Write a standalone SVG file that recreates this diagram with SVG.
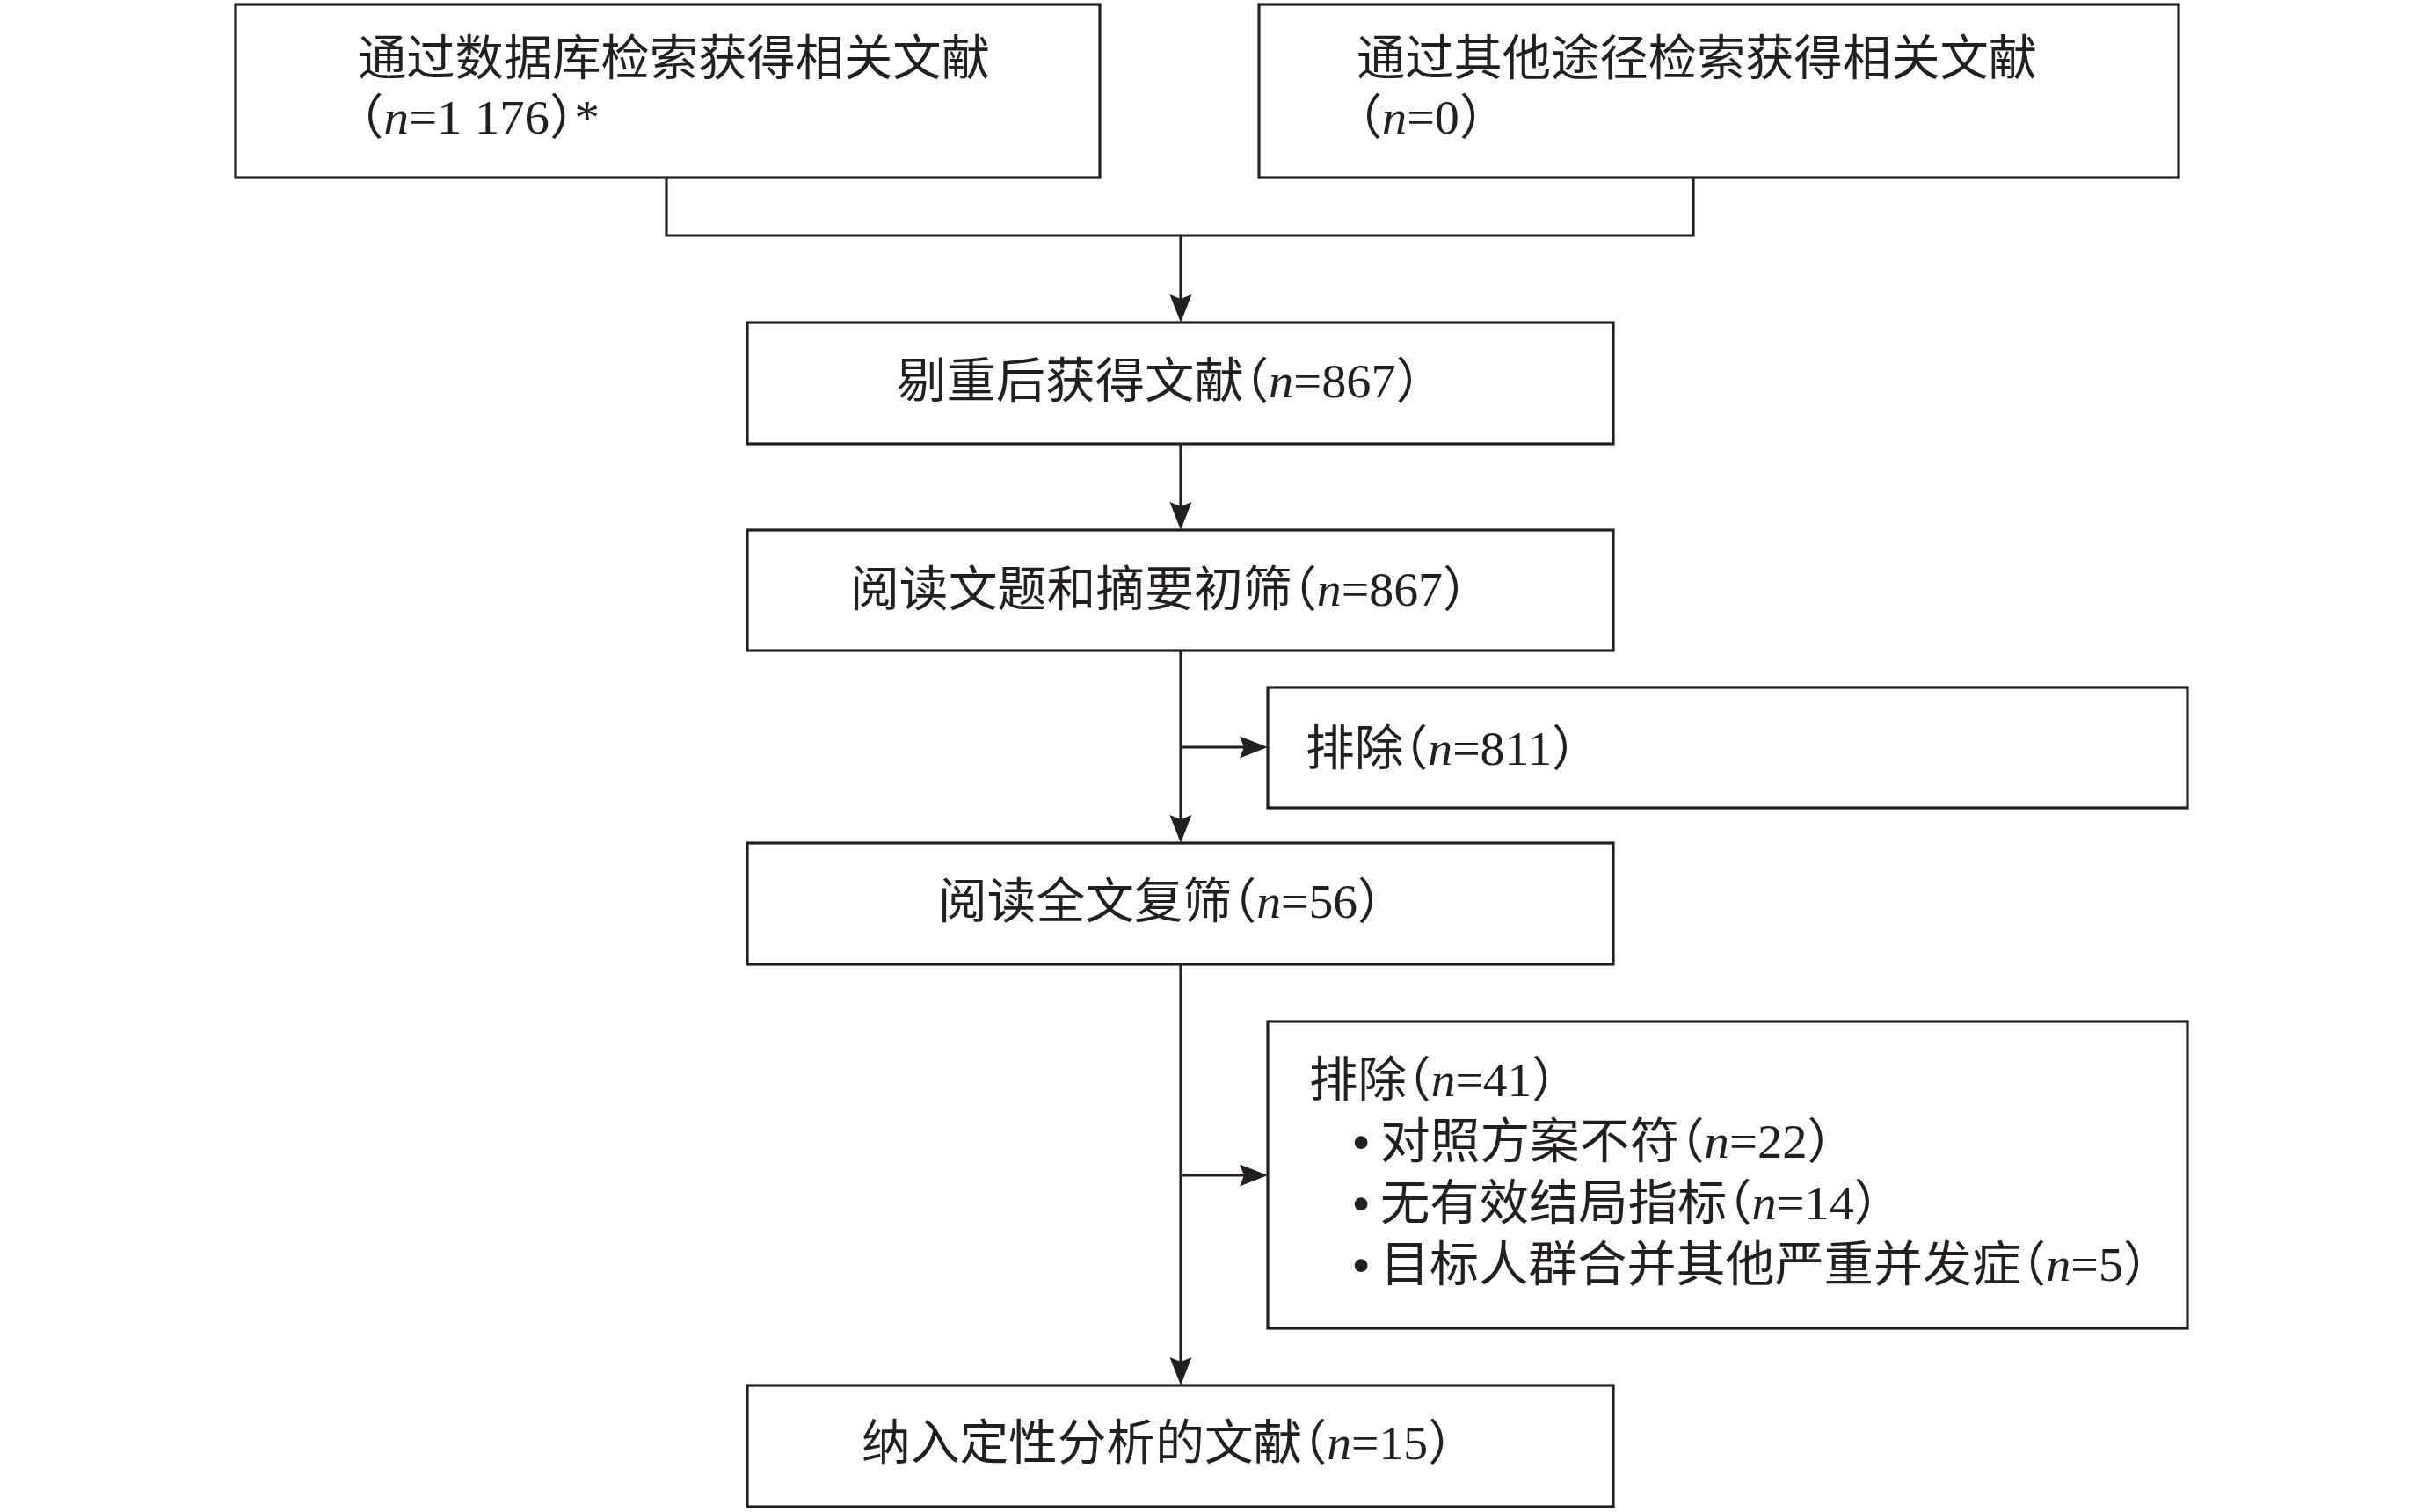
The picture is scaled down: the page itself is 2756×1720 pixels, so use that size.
<svg xmlns="http://www.w3.org/2000/svg" width="2756" height="1720" viewBox="0 0 2756 1720">
<style>
.box{fill:#ffffff;stroke:#231f20;stroke-width:3.2}
.ln{fill:none;stroke:#231f20;stroke-width:3.2}
.t{font-family:"Liberation Serif","Noto Sans CJK SC",serif;font-size:55px;fill:#231f20;font-feature-settings:"halt" 1}
.i{font-style:italic}
.b{font-family:"Liberation Serif",serif;font-size:62px;fill:#231f20;text-anchor:middle}
</style>
<defs>
<marker id="ah" viewBox="-25 -15 40 30" markerWidth="40" markerHeight="30" refX="0" refY="0" orient="auto" markerUnits="userSpaceOnUse">
<path d="M10,0 L-22,-12.5 L-17,0 L-22,12.5 Z" fill="#231f20"/>
</marker>
</defs>
<rect width="2756" height="1720" fill="#ffffff"/>
<g id="connectors">
<path class="ln" d="M758,202 V268 H1926 V202"/>
<path class="ln" d="M1343,268 V357" marker-end="url(#ah)"/>
<path class="ln" d="M1343,505 V593" marker-end="url(#ah)"/>
<path class="ln" d="M1343,740 V949" marker-end="url(#ah)"/>
<path class="ln" d="M1343,850 H1432" marker-end="url(#ah)"/>
<path class="ln" d="M1343,1097 V1566" marker-end="url(#ah)"/>
<path class="ln" d="M1343,1337 H1432" marker-end="url(#ah)"/>
</g>
<g id="n1">
<rect class="box" x="268" y="5" width="983" height="197"/>
<text class="t" x="407" y="85" textLength="719" lengthAdjust="spacingAndGlyphs">通过数据库检索获得相关文献</text>
<text class="t" x="408" y="152" textLength="274" lengthAdjust="spacingAndGlyphs">（<tspan class="i">n</tspan>=1 176）*</text>
</g>
<g id="n2">
<rect class="box" x="1432" y="5" width="1046" height="197"/>
<text class="t" x="1543" y="85" textLength="774" lengthAdjust="spacingAndGlyphs">通过其他途径检索获得相关文献</text>
<text class="t" x="1544" y="152" textLength="144" lengthAdjust="spacingAndGlyphs">（<tspan class="i">n</tspan>=0）</text>
</g>
<g id="n3">
<rect class="box" x="850" y="367" width="985" height="138"/>
<text class="t" x="1020" y="452" textLength="596" lengthAdjust="spacingAndGlyphs">剔重后获得文献（<tspan class="i">n</tspan>=867）</text>
</g>
<g id="n4">
<rect class="box" x="850" y="603" width="985" height="137"/>
<text class="t" x="967" y="689" textLength="702" lengthAdjust="spacingAndGlyphs">阅读文题和摘要初筛（<tspan class="i">n</tspan>=867）</text>
</g>
<g id="n5">
<rect class="box" x="1442" y="782" width="1046" height="137"/>
<text class="t" x="1485" y="870" textLength="308" lengthAdjust="spacingAndGlyphs">排除（<tspan class="i">n</tspan>=811）</text>
</g>
<g id="n6">
<rect class="box" x="850" y="959" width="985" height="138"/>
<text class="t" x="1067" y="1044" textLength="505" lengthAdjust="spacingAndGlyphs">阅读全文复筛（<tspan class="i">n</tspan>=56）</text>
</g>
<g id="n7">
<rect class="box" x="1442" y="1162" width="1046" height="349"/>
<text class="t" x="1489" y="1247" textLength="281" lengthAdjust="spacingAndGlyphs">排除（<tspan class="i">n</tspan>=41）</text>
<text class="b" x="1548" y="1320">•</text>
<text class="t" x="1570" y="1317" textLength="514" lengthAdjust="spacingAndGlyphs">对照方案不符（<tspan class="i">n</tspan>=22）</text>
<text class="b" x="1548" y="1390">•</text>
<text class="t" x="1570" y="1387" textLength="567" lengthAdjust="spacingAndGlyphs">无有效结局指标（<tspan class="i">n</tspan>=14）</text>
<text class="b" x="1548" y="1460">•</text>
<text class="t" x="1570" y="1457" textLength="873" lengthAdjust="spacingAndGlyphs">目标人群合并其他严重并发症（<tspan class="i">n</tspan>=5）</text>
</g>
<g id="n8">
<rect class="box" x="850" y="1576" width="985" height="138"/>
<text class="t" x="980" y="1660" textLength="672" lengthAdjust="spacingAndGlyphs">纳入定性分析的文献（<tspan class="i">n</tspan>=15）</text>
</g>
</svg>
